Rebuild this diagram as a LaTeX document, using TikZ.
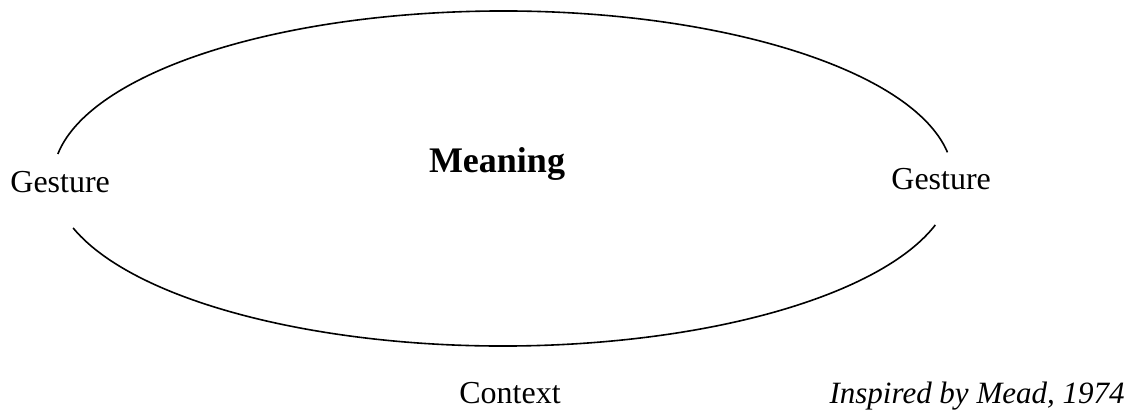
\documentclass[tikz,border=0pt]{standalone}
\usepackage{fontspec}
\setmainfont{Liberation Serif}
\begin{document}
\begin{tikzpicture}[x=0.5pt,y=0.5pt]
        \tikzset{word/.style={font=\fontsize{16}{19}\selectfont,inner sep=0pt},
          meaningword/.style={font=\fontsize{18}{22}\selectfont\bfseries,inner sep=0pt},
          loop arc/.style={draw,line width=0.8pt},
          rx/.style={x radius=225pt,y radius=83.75pt}}
        \useasboundingbox (0,0) rectangle (1130,412);
        \coordinate (centre) at (503,233.5);
        % upper and lower half of the loop
        \draw[loop arc] (centre) ++(9:225pt and 83.75pt)
          arc[rx,start angle=9,end angle=171.6];
        \draw[loop arc] (centre) ++(197.2:225pt and 83.75pt)
          arc[rx,start angle=197.2,end angle=343.9];
        \node[word,anchor=base west] (gestureA) at (10,219) {Gesture};
        \node[word,anchor=base west] (gestureB) at (891,222) {Gesture};
        \node[meaningword,anchor=base] (meaning) at (497,239) {Meaning};
        \node[word,anchor=base] (context) at (510,8) {Context};
        \node[word,anchor=base east,font=\fontsize{15.5}{19}\selectfont\itshape] (source) at (1125,8) {Inspired by Mead, 1974};
      \end{tikzpicture}
\end{document}
